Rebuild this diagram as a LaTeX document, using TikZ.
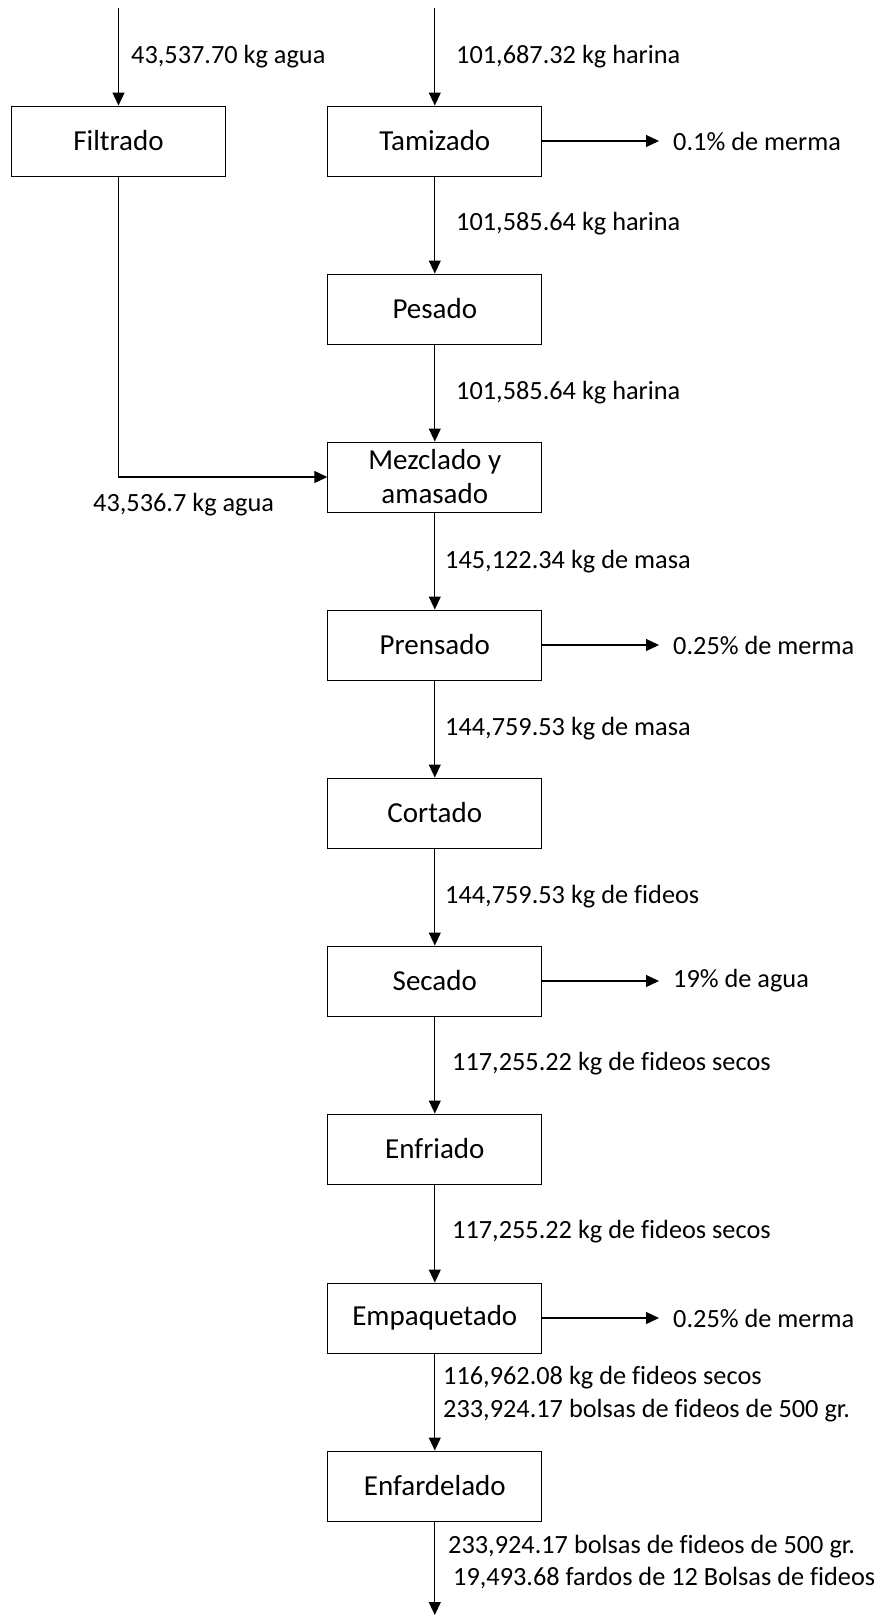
\documentclass[tikz,border=0pt]{standalone}
\usepackage{fontspec}
\setmainfont[Ligatures=NoCommon]{Carlito}
\usetikzlibrary{arrows.meta}
\begin{document}
\begin{tikzpicture}[x=1pt,y=-1pt,
  stepbox/.style={draw, line width=1pt, minimum width=214pt, minimum height=70pt, inner sep=0pt, align=center, font=\fontsize{29}{34}\selectfont},
  lbl/.style={anchor=west, inner sep=0pt, align=left, font=\fontsize{26.3}{32.5}\selectfont},
  outlbl/.style={anchor=west, inner sep=0pt, inner xsep=14pt, font=\fontsize{26.3}{32}\selectfont},
  flow/.style={line width=1.2pt, -{Triangle[length=13pt,width=12pt]}}]
\useasboundingbox (0,0) rectangle (880,1615);
% input / output coordinates
\coordinate (inW) at (118.5,8);
\coordinate (inT) at (434.8,8);
\coordinate (outE) at (434.8,1615);
\coordinate (bend) at (118.5,477);
% boxes
\node[stepbox] (fil) at (118.5,141) {Filtrado};
\node[stepbox] (tam) at (434.8,141) {Tamizado};
\node[stepbox] (pes) at (434.8,309) {Pesado};
\node[stepbox] (mez) at (434.8,477) {Mezclado y\\amasado};
\node[stepbox] (pre) at (434.8,645) {Prensado};
\node[stepbox] (cor) at (434.8,813) {Cortado};
\node[stepbox] (sec) at (434.8,981) {Secado};
\node[stepbox] (enf) at (434.8,1149) {Enfriado};
\node[stepbox] (emp) at (434.8,1318) {Empaquetado};
\node[stepbox] (fard) at (434.8,1486) {Enfardelado};
% side outputs
\node[outlbl] (o1) at (659,141) {0.1\% de merma};
\node[outlbl] (o2) at (659,645) {0.25\% de merma};
\node[outlbl] (o3) at (659,981) {19\% de agua};
\node[outlbl] (o4) at (659,1318) {0.25\% de merma};
% connectors
\draw[flow] (inW) -- (fil.north);
\draw[flow] (inT) -- (tam.north);
\draw[flow] (tam) -- (pes);
\draw[flow] (pes) -- (mez);
\draw[flow] (fil.south) -- (bend) -- (mez.west);
\draw[flow] (mez) -- (pre);
\draw[flow] (pre) -- (cor);
\draw[flow] (cor) -- (sec);
\draw[flow] (sec) -- (enf);
\draw[flow] (enf) -- (emp);
\draw[flow] (emp) -- (fard);
\draw[flow] (fard) -- (outE);
\draw[flow] (tam.east) -- (o1.west);
\draw[flow] (pre.east) -- (o2.west);
\draw[flow] (sec.east) -- (o3.west);
\draw[flow] (emp.east) -- (o4.west);
% labels
\node[lbl] (l1) at (131,57) {43,537.70 kg agua};
\node[lbl] (l2) at (456,57) {101,687.32 kg harina};
\node[lbl] (l3) at (456,224) {101,585.64 kg harina};
\node[lbl] (l4) at (456,393) {101,585.64 kg harina};
\node[lbl] (l5) at (93,505) {43,536.7 kg agua};
\node[lbl] (l6) at (445,562) {145,122.34 kg de masa};
\node[lbl] (l7) at (445,729) {144,759.53 kg de masa};
\node[lbl] (l8) at (445,897) {144,759.53 kg de fideos};
\node[lbl] (l9) at (452,1064) {117,255.22 kg de fideos secos};
\node[lbl] (l10) at (452,1232) {117,255.22 kg de fideos secos};
\node[lbl] (l11) at (443,1394) {116,962.08 kg de fideos secos\\233,924.17 bolsas de fideos de 500 gr.};
\node[lbl] (l12) at (448,1562) {233,924.17 bolsas de fideos de 500 gr.\\\hspace*{5pt}19,493.68 fardos de 12 Bolsas de fideos};
\end{tikzpicture}
\end{document}
